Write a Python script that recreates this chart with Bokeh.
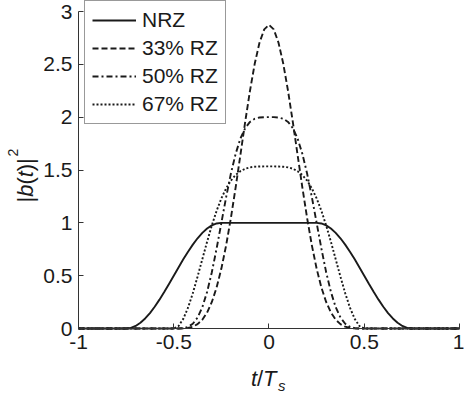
from bokeh.plotting import figure
from bokeh.models import Label, Legend, LegendItem, FixedTicker, Range1d
from bokeh.embed import file_html
from bokeh.resources import INLINE

# ---- data ----
t_nrz = [-1.0, -0.75, -0.725, -0.7, -0.675, -0.65, -0.625, -0.6, -0.575, -0.55, -0.525,
         -0.5, -0.475, -0.45, -0.425, -0.4, -0.375, -0.35, -0.325, -0.3, -0.275, -0.25,
         0.25, 0.275, 0.3, 0.325, 0.35, 0.375, 0.4, 0.425, 0.45, 0.475, 0.5,
         0.525, 0.55, 0.575, 0.6, 0.625, 0.65, 0.675, 0.7, 0.725, 0.75, 1.0]
nrz = [0.0, 0.0, 0.006, 0.024, 0.055, 0.095, 0.146, 0.206, 0.273, 0.345, 0.422,
       0.5, 0.578, 0.655, 0.727, 0.794, 0.854, 0.905, 0.946, 0.976, 0.994, 1.0,
       1.0, 0.994, 0.976, 0.946, 0.905, 0.854, 0.794, 0.727, 0.655, 0.578, 0.5,
       0.422, 0.345, 0.273, 0.206, 0.146, 0.095, 0.055, 0.024, 0.006, 0.0, 0.0]

t_rz = [-1.0, -0.5, -0.475, -0.45, -0.425, -0.4, -0.375, -0.35, -0.325, -0.3, -0.275,
        -0.25, -0.225, -0.2, -0.175, -0.15, -0.125, -0.1, -0.075, -0.05, -0.025, 0.0,
        0.025, 0.05, 0.075, 0.1, 0.125, 0.15, 0.175, 0.2, 0.225, 0.25, 0.275, 0.3,
        0.325, 0.35, 0.375, 0.4, 0.425, 0.45, 0.475, 0.5, 1.0]
rz33 = [0.0, 0.0, 0.0, 0.001, 0.005, 0.017, 0.041, 0.083, 0.151, 0.251, 0.388,
        0.567, 0.787, 1.046, 1.336, 1.644, 1.955, 2.248, 2.505, 2.704, 2.831, 2.874,
        2.831, 2.704, 2.505, 2.248, 1.955, 1.644, 1.336, 1.046, 0.787, 0.567, 0.388, 0.251,
        0.151, 0.083, 0.041, 0.017, 0.005, 0.001, 0.0, 0.0, 0.0]
rz50 = [0.0, 0.0, 0.0, 0.003, 0.015, 0.045, 0.104, 0.202, 0.346, 0.533, 0.757,
        1.0, 1.243, 1.467, 1.654, 1.798, 1.896, 1.955, 1.985, 1.997, 2.0, 2.0,
        2.0, 1.997, 1.985, 1.955, 1.896, 1.798, 1.654, 1.467, 1.243, 1.0, 0.757, 0.533,
        0.346, 0.202, 0.104, 0.045, 0.015, 0.003, 0.0, 0.0, 0.0]
rz67 = [0.0, 0.0, 0.023, 0.091, 0.197, 0.334, 0.491, 0.656, 0.821, 0.976, 1.114,
        1.232, 1.326, 1.4, 1.453, 1.489, 1.512, 1.525, 1.531, 1.533, 1.534, 1.534,
        1.534, 1.533, 1.531, 1.525, 1.512, 1.489, 1.453, 1.4, 1.326, 1.232, 1.114, 0.976,
        0.821, 0.656, 0.491, 0.334, 0.197, 0.091, 0.023, 0.0, 0.0]

series_labels = ["NRZ", "33% RZ", "50% RZ", "67% RZ"]
x_ticks = [-1, -0.5, 0, 0.5, 1]
x_tick_labels = ["-1", "-0.5", "0", "0.5", "1"]
y_ticks = [0, 0.5, 1, 1.5, 2, 2.5, 3]
y_tick_labels = ["0", "0.5", "1", "1.5", "2", "2.5", "3"]

FONT = "Liberation Sans"
INK = "#1a1a1a"

# The frame fills the whole canvas; axes sit at fixed data positions so that the
# axis titles (Labels) fall inside the frame.
p = figure(width=464, height=394, output_backend="svg", toolbar_location=None,
           x_range=Range1d(-1.40945, 1.02625), y_range=Range1d(-0.6246, 3.1041),
           min_border_left=0, min_border_right=0, min_border_top=0, min_border_bottom=0)
p.grid.visible = False
p.outline_line_color = None
p.background_fill_color = "white"
p.border_fill_color = "white"

p.xaxis[0].fixed_location = 0
p.xaxis[0].bounds = (-1, 1)
p.yaxis[0].fixed_location = -1
p.yaxis[0].bounds = (0, 3)

for ax, ticks, labs in ((p.xaxis[0], x_ticks, x_tick_labels), (p.yaxis[0], y_ticks, y_tick_labels)):
    ax.ticker = FixedTicker(ticks=ticks)
    ax.major_label_overrides = {t: l for t, l in zip(ticks, labs)}
    ax.major_tick_in = 5
    ax.major_tick_out = 0
    ax.minor_tick_line_color = None
    ax.axis_line_color = "#333333"
    ax.major_tick_line_color = "#333333"
    ax.major_label_text_font = FONT
    ax.major_label_text_font_size = "21px"
    ax.major_label_text_color = INK
    ax.major_label_standoff = 6

lw = 1.9
r_nrz = p.line(t_nrz, nrz, line_color=INK, line_width=lw)
r33 = p.line(t_rz, rz33, line_color=INK, line_width=lw, line_dash="6 3")
r50 = p.line(t_rz, rz50, line_color=INK, line_width=lw, line_dash="6 3 2 3")
r67 = p.line(t_rz, rz67, line_color=INK, line_width=lw, line_dash="2 2")

legend = Legend(items=[LegendItem(label=l, renderers=[r]) for l, r in
                       zip(series_labels, [r_nrz, r33, r50, r67])],
                location=(84, 270), orientation="vertical",
                label_text_font=FONT, label_text_font_size="21px", label_text_color=INK,
                glyph_width=44, glyph_height=20, label_height=20, label_standoff=6,
                padding=7, spacing=4, margin=0,
                border_line_color="#333333", border_line_width=1,
                background_fill_color="white", background_fill_alpha=1.0)
p.add_layout(legend)

def lab(x, y, dx, dy, text, size="22px", style="normal", angle=0.0):
    p.add_layout(Label(x=x, y=y, x_offset=dx, y_offset=dy, text=text,
                       text_font=FONT, text_font_size=size, text_font_style=style,
                       text_color=INK, angle=angle, text_align="left",
                       text_baseline="alphabetic"))

# x-axis title  t/T_s  (anchored at data x=0, y=0, offsets in pixels)
lab(0, 0, -18, -50, "t", style="italic")
lab(0, 0, -12, -50, "/")
lab(0, 0, -6, -50, "T", style="italic")
lab(0, 0, 9, -57, "s", size="15px", style="italic")

# y-axis title  |b(t)|^2  (anchored at data x=-1, y=0)
A = 1.5707963267948966
lab(-1, 0, -53, 126, "|", angle=A)
lab(-1, 0, -53, 131.7, "b", style="italic", angle=A)
lab(-1, 0, -53, 143.9, "(", angle=A)
lab(-1, 0, -53, 151.2, "t", style="italic", angle=A)
lab(-1, 0, -53, 157.3, ")", angle=A)
lab(-1, 0, -53, 164.6, "|", angle=A)
lab(-1, 0, -66, 172, "2", size="14px", angle=A)

open("out.html", "w").write(file_html(p, INLINE))
